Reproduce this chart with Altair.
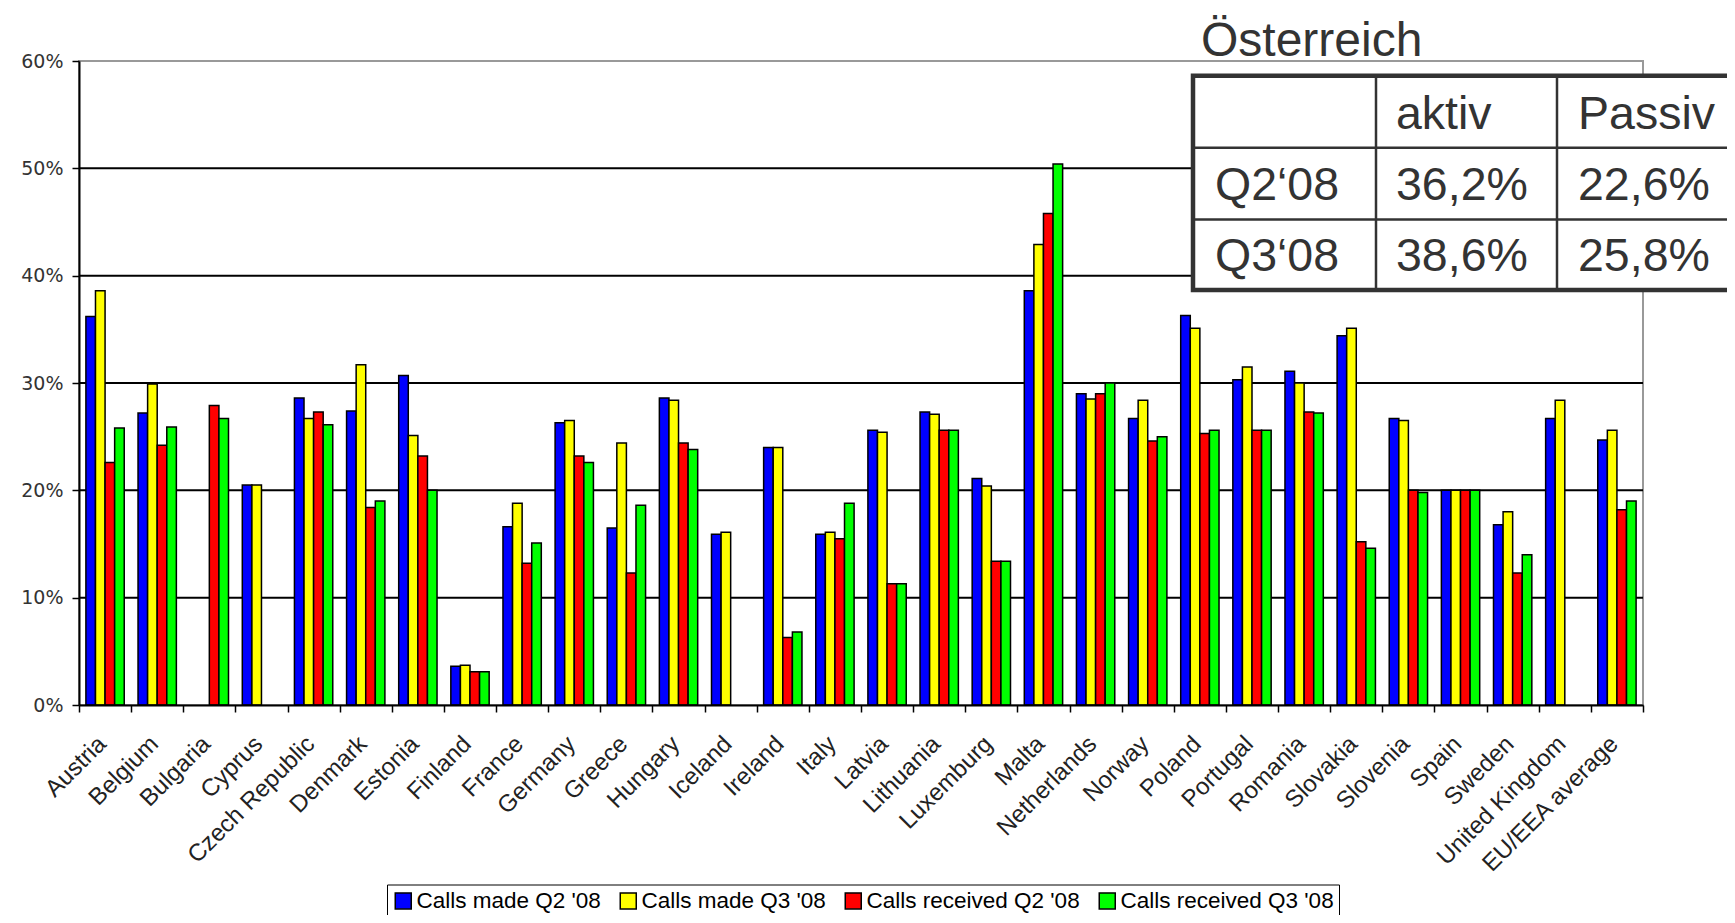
import altair as alt
import pandas as pd

countries = ["Austria", "Belgium", "Bulgaria", "Cyprus", "Czech Republic", "Denmark",
             "Estonia", "Finland", "France", "Germany", "Greece", "Hungary", "Iceland",
             "Ireland", "Italy", "Latvia", "Lithuania", "Luxemburg", "Malta", "Netherlands",
             "Norway", "Poland", "Portugal", "Romania", "Slovakia", "Slovenia", "Spain",
             "Sweden", "United Kingdom", "EU/EEA average"]

series = ["Calls made Q2 '08", "Calls made Q3 '08", "Calls received Q2 '08", "Calls received Q3 '08"]
colors = ["#0000FF", "#FFFF00", "#FF0000", "#00FF00"]

made_q2 = [36.2, 27.2, None, 20.5, 28.6, 27.4, 30.7, 3.6, 16.6, 26.3,
           16.5, 28.6, 15.9, 24.0, 15.9, 25.6, 27.3, 21.1, 38.6, 29.0,
           26.7, 36.3, 30.3, 31.1, 34.4, 26.7, 20.0, 16.8, 26.7, 24.7]
made_q3 = [38.6, 29.9, None, 20.5, 26.7, 31.7, 25.1, 3.7, 18.8, 26.5,
           24.4, 28.4, 16.1, 24.0, 16.1, 25.4, 27.1, 20.4, 42.9, 28.5,
           28.4, 35.1, 31.5, 30.0, 35.1, 26.5, 20.0, 18.0, 28.4, 25.6]
recv_q2 = [22.6, 24.2, 27.9, None, 27.3, 18.4, 23.2, 3.1, 13.2, 23.2,
           12.3, 24.4, None, 6.3, 15.5, 11.3, 25.6, 13.4, 45.8, 29.0,
           24.6, 25.3, 25.6, 27.3, 15.2, 20.0, 20.0, 12.3, None, 18.2]
recv_q3 = [25.8, 25.9, 26.7, None, 26.1, 19.0, 20.0, 3.1, 15.1, 22.6,
           18.6, 23.8, None, 6.8, 18.8, 11.3, 25.6, 13.4, 50.4, 30.0,
           25.0, 25.6, 25.6, 27.2, 14.6, 19.8, 20.0, 14.0, None, 19.0]

y_ticks = [0, 10, 20, 30, 40, 50, 60]
grid_values = [10, 20, 30, 40, 50]

table_title = "Österreich"
table_header = ["", "aktiv", "Passiv"]
table_q2 = ["Q2‘08", "36,2%", "22,6%"]
table_q3 = ["Q3‘08", "38,6%", "25,8%"]

# ---- build tables -------------------------------------------------------
rows = []
for s, vals in zip(series, [made_q2, made_q3, recv_q2, recv_q3]):
    for c, v in zip(countries, vals):
        if v is not None:
            rows.append({"country": c, "series": s, "value": v})
df = pd.DataFrame(rows)

# layout of the overlay table (pixels, relative to plot origin)
col_x = [1136, 1317, 1499]
row_y = [67.6, 138.7, 210]
cells = []
for r, row in enumerate([table_header, table_q2, table_q3]):
    for c, txt in enumerate(row):
        cells.append({"text": txt, "px": col_x[c], "py": row_y[r]})
cells_df = pd.DataFrame(cells)

tbl_left, tbl_right, tbl_top, tbl_bottom = 1114, 1670, 14.8, 229
lines_df = pd.DataFrame([
    {"x1": 1297, "x2": 1297, "y1": tbl_top, "y2": tbl_bottom},
    {"x1": 1478, "x2": 1478, "y1": tbl_top, "y2": tbl_bottom},
    {"x1": tbl_left, "x2": tbl_right, "y1": 86.8, "y2": 86.8},
    {"x1": tbl_left, "x2": tbl_right, "y1": 158.5, "y2": 158.5},
])

yscale = alt.Scale(domain=[0, 60], nice=False, zero=True)
yaxis = alt.Axis(title=None, values=y_ticks, labelExpr="datum.value + '%'",
                 grid=False, labelFont="DejaVu Sans", labelFontSize=19,
                 labelColor="#333", labelPadding=9, tickSize=7,
                 tickColor="black", tickWidth=1.5, domainColor="black",
                 domainWidth=2, zindex=1)

grid = alt.Chart(pd.DataFrame({"value": grid_values})).mark_rule(
    color="black", strokeWidth=2
).encode(y=alt.Y("value:Q", scale=yscale, axis=yaxis))

bars = alt.Chart(df).mark_bar(stroke="black", strokeWidth=1.5).encode(
    x=alt.X("country:N", sort=countries,
            scale=alt.Scale(domain=countries, paddingInner=0, paddingOuter=0),
            axis=alt.Axis(title=None, labelAngle=-45, labelAlign="right",
                          labelBaseline="middle", labelFont="Liberation Sans",
                          labelFontSize=24, labelColor="#222", labelPadding=28,
                          labelOffset=-3,
                          tickBand="extent", tickSize=7, tickColor="black",
                          tickWidth=1.5, domainColor="black", domainWidth=2,
                          labelOverlap=False, labelLimit=400, zindex=1)),
    xOffset=alt.XOffset("series:N", sort=series,
                        scale=alt.Scale(domain=series, paddingInner=0, paddingOuter=0.72)),
    y=alt.Y("value:Q", scale=yscale, axis=yaxis),
    color=alt.Color("series:N", sort=series,
                    scale=alt.Scale(domain=series, range=colors),
                    legend=alt.Legend(title=None, orient="none", legendX=308, legendY=823.5,
                                      direction="horizontal", columns=4,
                                      symbolType="square", symbolSize=256,
                                      symbolStrokeColor="black", symbolStrokeWidth=1.5,
                                      labelFont="Liberation Sans", labelFontSize=22.5,
                                      labelColor="black", labelOffset=2,
                                      columnPadding=16, padding=5,
                                      strokeColor="black", labelLimit=400)),
)

one = pd.DataFrame({"a": [0]})
tbl_rect = alt.Chart(one).mark_rect(fill="white", stroke="#333", strokeWidth=4.5).encode(
    x=alt.value(tbl_left), x2=alt.value(tbl_right),
    y=alt.value(tbl_top), y2=alt.value(tbl_bottom))

tbl_lines = alt.Chart(lines_df).mark_rule(color="#333", strokeWidth=2.5).encode(
    x=alt.X("x1:Q", scale=None), x2="x2:Q",
    y=alt.Y("y1:Q", scale=None), y2="y2:Q")

tbl_text = alt.Chart(cells_df).mark_text(
    align="left", baseline="alphabetic", font="Liberation Sans", fontSize=46.5, color="#333"
).encode(x=alt.X("px:Q", scale=None), y=alt.Y("py:Q", scale=None), text="text:N")

title_text = alt.Chart(pd.DataFrame({"t": [table_title]})).mark_text(
    align="left", baseline="alphabetic", font="Liberation Sans", fontSize=48, color="#333"
).encode(x=alt.value(1122), y=alt.value(-5), text="t:N")

chart = alt.layer(grid, bars, tbl_rect, tbl_lines, tbl_text, title_text).properties(
    width=1564, height=644,
    autosize=alt.AutoSizeParams(type="none"),
    padding={"left": 71, "top": 53, "right": 84, "bottom": 210},
).configure_view(stroke="#999", strokeWidth=2)

chart.save("out.html", embed_options={"renderer": "svg", "actions": False})
